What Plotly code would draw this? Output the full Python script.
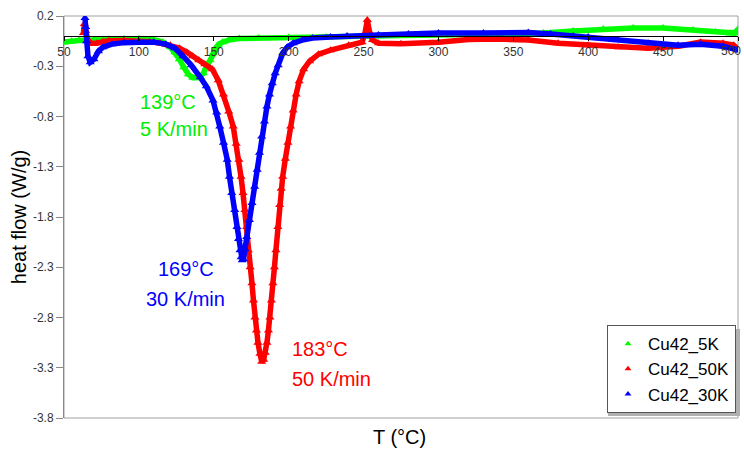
import plotly.graph_objects as go

# DSC heat-flow curves, Cu42 alloy at three heating rates
t_5k = [50, 55, 60, 70, 80, 90, 100, 110, 116, 121, 124, 127, 130, 133, 136, 139, 141,
        143, 145, 147.5, 149.5, 151, 153, 156, 160, 167, 180, 200, 225, 250, 275, 300,
        325, 350, 370, 390, 410, 430, 450, 470, 485, 495, 498, 500]
hf_5k = [-0.06, -0.05, -0.045, -0.04, -0.035, -0.03, -0.03, -0.035, -0.06, -0.11, -0.16,
         -0.23, -0.31, -0.38, -0.415, -0.42, -0.41, -0.37, -0.31, -0.24, -0.17, -0.12,
         -0.085, -0.06, -0.04, -0.025, -0.02, -0.015, -0.01, -0.005, 0.005, 0.01, 0.015,
         0.02, 0.03, 0.05, 0.07, 0.08, 0.08, 0.06, 0.04, 0.025, 0.03, 0.07]

t_50k = [63, 63.6, 64.5, 66, 68, 72, 76, 80, 90, 100, 107, 114, 121, 127, 132, 136, 140,
         144, 149, 153, 156.5, 160, 163, 165, 166.8, 168.2, 169.5, 170.8, 172, 173, 174.3,
         175.5, 176.5, 177.5, 178.5, 179.5, 180.8, 182, 183.3, 184.4, 185.5, 186.5, 187.5,
         188.5, 189.5, 190.5, 191.5, 192.8, 194, 195, 196, 197.8, 199.5, 201.3, 203, 205,
         207, 210, 214, 220, 228, 240, 249, 251, 252.5, 254, 256, 260, 275, 300, 320, 340,
         360, 380, 400, 420, 440, 460, 475, 490, 497, 500]
hf_50k = [0.03, 0.12, 0.05, -0.04, -0.07, -0.07, -0.055, -0.047, -0.045, -0.048, -0.055,
          -0.07, -0.09, -0.12, -0.16, -0.2, -0.24, -0.28, -0.33, -0.44, -0.58, -0.75, -0.9,
          -1.07, -1.23, -1.4, -1.56, -1.73, -1.9, -2.13, -2.3, -2.46, -2.63, -2.8, -2.93,
          -3.05, -3.16, -3.24, -3.22, -3.15, -3.05, -2.93, -2.8, -2.63, -2.46, -2.3, -2.13,
          -1.9, -1.68, -1.52, -1.4, -1.22, -1.06, -0.9, -0.74, -0.58, -0.45, -0.33, -0.25,
          -0.18, -0.14, -0.09, -0.06, 0.03, 0.16, 0.04, -0.04, -0.07, -0.075, -0.06, -0.035,
          -0.03, -0.04, -0.07, -0.09, -0.11, -0.12, -0.1, -0.06, -0.07, -0.09, -0.13]

t_30k = [64, 64.5, 65, 66, 67.5, 70, 73, 76, 82, 90, 100, 110, 118, 124, 129.5, 135, 141,
         145, 149.5, 152, 154, 156.5, 159, 160.5, 162, 164, 165.5, 166.5, 167.5, 168.3, 169,
         169.8, 170.8, 172, 173.8, 175.5, 177.3, 179, 180.5, 182, 183.8, 185.5, 187.2, 189,
         191, 193, 196, 199, 203, 209, 216, 228, 239, 260, 280, 300, 330, 360, 375, 390,
         400, 420, 440, 460, 475, 490, 500]
hf_30k = [0.18, 0.09, -0.05, -0.2, -0.26, -0.23, -0.15, -0.11, -0.08, -0.065, -0.06, -0.06,
          -0.08, -0.12, -0.2, -0.29, -0.41, -0.5, -0.64, -0.76, -0.9, -1.06, -1.23, -1.4,
          -1.56, -1.73, -1.9, -2.02, -2.13, -2.2, -2.23, -2.22, -2.12, -2.0, -1.83, -1.66,
          -1.5, -1.33, -1.16, -1.0, -0.85, -0.7, -0.58, -0.47, -0.37, -0.29, -0.17, -0.11,
          -0.07, -0.04, -0.02, -0.01, 0.0, 0.01, 0.02, 0.03, 0.03, 0.035, 0.02, 0.0, -0.01,
          -0.04, -0.07, -0.09, -0.08, -0.1, -0.14]

series = [
    ("Cu42_5K", t_5k, hf_5k, "#00ff00"),
    ("Cu42_50K", t_50k, hf_50k, "#ff0000"),
    ("Cu42_30K", t_30k, hf_30k, "#0000ff"),
]

x_ticks = [50, 100, 150, 200, 250, 300, 350, 400, 450, 500]
y_ticks = [0.2, -0.3, -0.8, -1.3, -1.8, -2.3, -2.8, -3.3, -3.8]

# peak labels: (text, T, heat flow, colour, anchor)
peak_labels = [
    ("139°C", 99.4, -0.66, "#00ee00", "left"),
    ("5 K/min", 99.4, -0.92, "#00ee00", "left"),
    ("169°C", 131.4, -2.32, "#0000ff", "center"),
    ("30 K/min", 131.4, -2.62, "#0000ff", "center"),
    ("183°C", 200.9, -3.11, "#ff0000", "left"),
    ("50 K/min", 200.9, -3.41, "#ff0000", "left"),
]

FONT = "Liberation Sans, Arial, sans-serif"
X_RANGE = [50, 500]
Y_RANGE = [-3.8, 0.2]
TICK_FONT = dict(family=FONT, size=12, color="#333333")

fig = go.Figure()
for name, xs, ys, col in series:
    fig.add_trace(go.Scatter(
        x=xs, y=ys, mode="lines+markers", name=name, legendgroup=name,
        showlegend=False,
        line=dict(color=col, width=5.5),
        marker=dict(symbol="triangle-up", size=8, color=col),
    ))
# legend entries show only the triangle symbol
for name, xs, ys, col in series:
    fig.add_trace(go.Scatter(
        x=[None], y=[None], mode="markers", name=name, legendgroup=name,
        marker=dict(symbol="triangle-up", size=6, color=col),
    ))

for text, tx, ty, col, anchor in peak_labels:
    fig.add_annotation(x=tx, y=ty, text=text, showarrow=False, xanchor=anchor,
                       yanchor="middle", font=dict(family=FONT, size=20, color=col))

zero_pos = (0 - Y_RANGE[0]) / (Y_RANGE[1] - Y_RANGE[0])

# last x tick label sits at the right edge; right-align it so it stays on the page
fig.add_annotation(x=x_ticks[-1], y=zero_pos, xref="x", yref="paper",
                   text=str(x_ticks[-1]), showarrow=False, xanchor="right",
                   yanchor="top", xshift=5, yshift=-6, font=TICK_FONT)

# x-axis title below the frame
fig.add_annotation(x=0.4985, y=0, xref="paper", yref="paper", text="T (°C)",
                   showarrow=False, xanchor="center", yanchor="top", yshift=-6,
                   font=dict(family=FONT, size=20, color="black"))

# plot-area frame
fig.add_shape(type="rect", xref="paper", yref="paper", x0=0, x1=1, y0=0, y1=1,
              line=dict(color="#a0a0a0", width=1), layer="below")

# drop shadow behind the legend box
fig.add_shape(type="rect", xref="paper", yref="paper",
              x0=(608 - 64) / 674, x1=(740 - 64) / 674,
              y0=(418 - 416) / 402, y1=(418 - 329) / 402,
              line=dict(width=0), fillcolor="#b0b0b0", layer="above")

fig.update_layout(
    width=744, height=450,
    margin=dict(l=64, r=6, t=16, b=32),
    paper_bgcolor="white", plot_bgcolor="white",
    font=dict(family=FONT, color="black"),
    xaxis=dict(
        range=X_RANGE, anchor="free", position=zero_pos,
        tickvals=x_ticks,
        ticktext=[str(v) for v in x_ticks[:-1]] + [""],
        showline=True, linecolor="black", linewidth=1,
        ticks="outside", ticklen=4, tickcolor="black",
        tickfont=TICK_FONT, automargin=False,
        showgrid=False, zeroline=False,
    ),
    yaxis=dict(
        range=Y_RANGE, automargin=False,
        tickvals=y_ticks, ticktext=[f"{v:.1f}" for v in y_ticks],
        showline=True, linecolor="#888888", linewidth=1,
        ticks="outside", ticklen=7, tickcolor="#888888",
        tickfont=TICK_FONT,
        showgrid=False, zeroline=False,
        title=dict(text="heat flow (W/g)", standoff=0,
                   font=dict(family=FONT, size=20, color="black")),
    ),
    legend=dict(
        x=0.997, y=0.012, xanchor="right", yanchor="bottom",
        bgcolor="white", bordercolor="#555555", borderwidth=1,
        font=dict(family=FONT, size=17, color="black"),
        itemwidth=30, tracegroupgap=0,
    ),
)

fig.write_html("out.html")
